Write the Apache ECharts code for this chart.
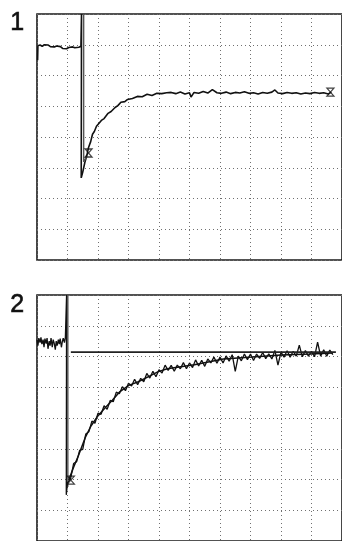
<!DOCTYPE html>
<html>
<head>
<meta charset="utf-8">
<script src="https://cdn.jsdelivr.net/npm/echarts@6/dist/echarts.min.js"></script>
<style>
html,body{margin:0;padding:0;background:#fff;}
#chart{width:342px;height:541px;}
</style>
</head>
<body>
<div id="chart"></div>
<script>
// Panel labels
var panelLabels = ['1', '2'];

// Panel 1 (x in divisions 0-10, y in divisions 0-8)
var trace1 = [
  [0.02,6.50],[0.03,6.97],[0.10,6.99],[0.17,6.95],[0.24,7.00],[0.30,6.96],[0.37,6.99],[0.44,6.94],
  [0.50,6.97],[0.57,6.93],[0.64,6.96],[0.70,6.90],[0.77,6.94],[0.84,6.88],[0.90,6.92],[0.97,6.87],
  [1.04,6.91],[1.10,6.89],[1.17,6.93],[1.24,6.90],[1.30,6.94],[1.37,6.92],[1.44,6.95],
  [1.46,8.00],[1.45,2.67],
  [1.50,2.86],[1.57,3.18],[1.63,3.38],[1.69,3.66],[1.76,3.85],[1.82,4.09],[1.88,4.18],[1.95,4.35],
  [2.01,4.40],[2.11,4.54],[2.20,4.60],[2.33,4.77],[2.43,4.83],[2.56,4.96],[2.65,5.02],[2.75,5.13],
  [2.88,5.15],[2.97,5.22],[3.13,5.25],[3.29,5.32],[3.45,5.31],[3.61,5.39],[3.77,5.35],[3.93,5.42],
  [4.09,5.41],[4.25,5.44],[4.40,5.45],[4.55,5.41],[4.70,5.46],[4.85,5.40],[5.00,5.44],[5.05,5.30],
  [5.15,5.45],[5.30,5.42],[5.45,5.48],[5.60,5.43],[5.75,5.54],[5.90,5.44],[6.05,5.42],[6.20,5.46],
  [6.35,5.41],[6.50,5.45],[6.65,5.43],[6.80,5.47],[6.95,5.42],[7.10,5.44],[7.25,5.40],[7.40,5.45],
  [7.55,5.42],[7.70,5.46],[7.80,5.53],[7.90,5.43],[8.05,5.41],[8.20,5.45],[8.35,5.42],[8.50,5.44],
  [8.65,5.40],[8.80,5.43],[8.95,5.41],[9.10,5.45],[9.25,5.42],[9.40,5.44],[9.55,5.40],[9.65,5.46]
];
var spike1b = [[1.53,8.00],[1.53,3.19],[1.63,3.36]];
var marks1 = [[1.69,3.48],[9.62,5.46]];

// Panel 2
var trace2 = [
  [0.00,6.55],[0.03,6.35],[0.06,6.60],[0.10,6.45],[0.13,6.62],[0.16,6.40],[0.20,6.55],[0.23,6.30],
  [0.26,6.58],[0.30,6.42],[0.33,6.60],[0.36,6.25],[0.40,6.50],[0.43,6.35],[0.46,6.60],[0.50,6.30],
  [0.53,6.55],[0.56,6.45],[0.60,6.22],[0.63,6.50],[0.66,6.35],[0.70,6.55],[0.73,6.40],[0.76,6.58],
  [0.80,6.30],[0.83,6.48],[0.86,6.60],[0.90,6.45],[0.93,6.62],
  [0.97,8.00],[0.96,1.50],
  [1.00,1.90],[1.10,2.02],[1.20,2.52],[1.30,2.58],[1.40,2.95],[1.50,2.98],[1.60,3.48],[1.70,3.55],
  [1.80,3.90],[1.90,3.83],[2.00,4.16],[2.10,4.12],[2.20,4.40],[2.30,4.28],[2.40,4.57],[2.50,4.53],
  [2.60,4.84],[2.70,4.79],[2.80,5.02],[2.90,4.89],[3.00,5.13],[3.10,5.04],[3.20,5.26],[3.30,5.08],
  [3.40,5.29],[3.50,5.18],[3.60,5.45],[3.70,5.30],[3.80,5.52],[3.90,5.34],[4.00,5.57],[4.10,5.46],
  [4.20,5.72],[4.30,5.55],[4.40,5.71],[4.50,5.52],[4.60,5.72],[4.70,5.60],[4.80,5.80],[4.90,5.60],
  [5.00,5.79],[5.10,5.64],[5.20,5.89],[5.30,5.69],[5.40,5.88],[5.50,5.68],[5.60,5.92],[5.70,5.79],
  [5.80,5.98],[5.90,5.78],[6.00,5.98],[6.10,5.79],[6.20,6.02],[6.30,5.85],[6.40,6.06],[6.50,5.52],
  [6.60,6.01],[6.70,5.86],[6.80,6.08],[6.90,5.90],[7.00,6.08],[7.10,5.87],[7.20,6.08],[7.30,5.94],
  [7.40,6.13],[7.50,5.93],[7.60,6.09],[7.70,5.92],[7.80,6.20],[7.90,5.72],[8.00,6.14],[8.10,5.98],
  [8.20,6.19],[8.30,5.98],[8.40,6.17],[8.50,6.01],[8.60,6.37],[8.70,5.99],[8.80,6.19],[8.90,6.01],
  [9.00,6.17],[9.10,5.99],[9.20,6.47],[9.30,6.01],[9.40,6.22],[9.50,6.01],[9.60,6.21],[9.70,6.06]
];
var fit2 = [
  [1.04,1.98],[1.20,2.40],[1.36,2.78],[1.58,3.36],[1.77,3.74],[1.99,4.06],[2.22,4.32],[2.47,4.58],
  [2.72,4.86],[3.01,5.06],[3.32,5.18],[3.64,5.34],[3.96,5.50],[4.27,5.60],[5.16,5.73],[6.11,5.92],
  [7.06,5.98],[8.01,6.05],[8.96,6.08],[9.70,6.11]
];
var spike2b = [[1.00,8.00],[1.00,1.76]];
var asymptote2 = [[1.11,6.14],[9.80,6.14]];
var marks2 = [[1.11,1.98]];

var chart = echarts.init(document.getElementById('chart'), null, {renderer: 'canvas'});

function xAx(i){
  return {gridIndex:i, type:'value', min:0, max:10, interval:1,
    axisLine:{show:false}, axisTick:{show:false}, axisLabel:{show:false},
    splitLine:{show:true, lineStyle:{color:'#707070', width:1, type:[1,3]}}};
}
function yAx(i){
  return {gridIndex:i, type:'value', min:0, max:8, interval:1,
    axisLine:{show:false}, axisTick:{show:false}, axisLabel:{show:false},
    splitLine:{show:true, lineStyle:{color:'#707070', width:1, type:[1,3]}}};
}
function lineS(i, data, color, width){
  return {type:'line', xAxisIndex:i, yAxisIndex:i, data:data, showSymbol:false, symbol:'none',
    lineStyle:{color:color, width:width}, animation:false, z:3};
}
var hourglass = 'path://M0,0 L10,0 L0,12 L10,12 Z';
function markS(i, data){
  return {type:'scatter', xAxisIndex:i, yAxisIndex:i, data:data, symbol:hourglass, symbolSize:[7,8],
    itemStyle:{color:'rgba(0,0,0,0)', borderColor:'#111', borderWidth:1.2}, animation:false, z:4};
}

chart.setOption({
  animation:false,
  backgroundColor:'#ffffff',
  grid:[
    {left:37, top:14, width:313, height:246, show:true, borderColor:'#1a1a1a', borderWidth:1.6},
    {left:37, top:295, width:316, height:250, show:true, borderColor:'#1a1a1a', borderWidth:1.6}
  ],
  xAxis:[xAx(0), xAx(1)],
  yAxis:[yAx(0), yAx(1)],
  graphic:[
    {type:'text', left:10, top:10, style:{text:panelLabels[0], font:'25px "Liberation Sans", Arial, sans-serif', fill:'#111', stroke:'#111', lineWidth:0.6}},
    {type:'text', left:10, top:292, style:{text:panelLabels[1], font:'25px "Liberation Sans", Arial, sans-serif', fill:'#111', stroke:'#111', lineWidth:0.6}}
  ],
  series:[
    lineS(0, trace1, '#111', 1.6),
    lineS(0, spike1b, '#555', 1.4),
    markS(0, marks1),
    lineS(1, spike2b, '#666', 2.2),
    lineS(1, trace2, '#111', 1.3),
    lineS(1, fit2, '#111', 1.5),
    lineS(1, asymptote2, '#222', 1.8),
    markS(1, marks2)
  ]
});
</script>
</body>
</html>
